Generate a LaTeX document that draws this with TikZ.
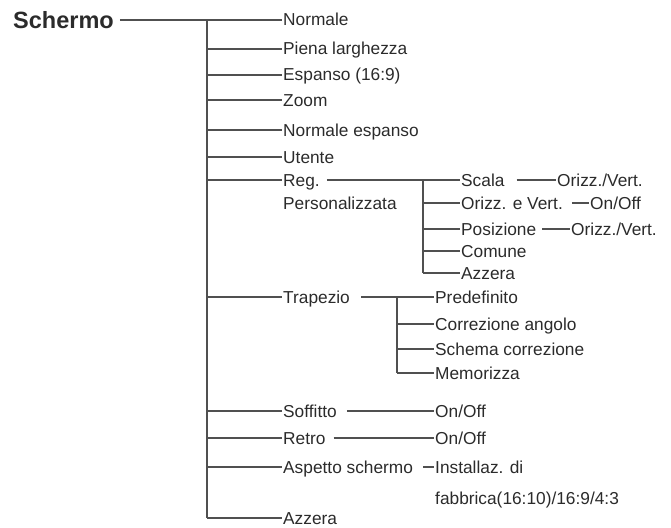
\documentclass[tikz,border=0pt]{standalone}
\usepackage{fontspec}
\setmainfont{Liberation Sans}
\definecolor{ink}{HTML}{2B2B2B}
\definecolor{wire}{HTML}{505050}
\tikzset{
  item/.style={anchor=west,inner sep=1pt,text height=12pt,text depth=0pt,text=ink,font=\fontsize{17.3}{20}\selectfont},
  wire/.style={draw=wire,line width=1.2pt}
}
\begin{document}
\begin{tikzpicture}[x=1pt,y=-1pt]
\useasboundingbox (0,0) rectangle (671,527);
\node[item,font=\fontsize{23.5}{27}\selectfont\bfseries,text height=17pt] (schermo) at (12,20) {Schermo};
\foreach \y/\n/\t in {20/normale/Normale,49/piena/Piena larghezza,75/espanso/{Espanso (16:9)},100/zoom/Zoom,
  130/normesp/Normale espanso,157/utente/Utente,180/reg/Reg.,297/trapezio/Trapezio,411/soffitto/Soffitto,
  438/retro/Retro,467/aspetto/Aspetto schermo,518/azzera/Azzera}{
  \node[item] (\n) at (282,\y) {\t};
  \coordinate (t\n) at (207,\y);
  \draw[wire] (t\n) -- (\n.west);
}
\draw[wire,shorten <=5pt] (schermo.east) -- (tnormale);
\draw[wire] (tnormale) -- (tazzera);
\node[item] (pers) at (282,203) {Personalizzata};
% Reg. Personalizzata
\foreach \y/\n/\t in {180/scala/Scala,203/orizz/Orizz. e Vert.,229/posiz/Posizione,251/comune/Comune,273/azzerareg/Azzera}{
  \node[item] (\n) at (460,\y) {\t};
  \coordinate (r\n) at (423,\y);
  \draw[wire] (r\n) -- (\n.west);
}
\draw[wire,shorten <=6pt] (reg.east) -- (scala.west);
\draw[wire] (rscala) -- (razzerareg);
\node[item] (scalaval) at (556,180) {Orizz./Vert.};
\node[item] (orizzval) at (589,203) {On/Off};
\node[item] (posizval) at (570,229) {Orizz./Vert.};
\draw[wire,shorten <=11pt] (scala.east) -- (scalaval.west);
\draw[wire,shorten <=8pt] (orizz.east) -- (orizzval.west);
\draw[wire,shorten <=5pt] (posiz.east) -- (posizval.west);
% Trapezio
\foreach \y/\n/\t in {297/predef/Predefinito,324/corrang/Correzione angolo,349/schema/Schema correzione,373/memo/Memorizza}{
  \node[item] (\n) at (434,\y) {\t};
  \coordinate (k\n) at (397,\y);
  \draw[wire] (k\n) -- (\n.west);
}
\draw[wire,shorten <=10pt] (trapezio.east) -- (predef.west);
\draw[wire] (kpredef) -- (kmemo);
% Soffitto, Retro, Aspetto schermo
\node[item] (soffval) at (434,411) {On/Off};
\node[item] (retroval) at (434,438) {On/Off};
\node[item] (inst) at (434,467) {Installaz. di};
\node[item] (fabb) at (434,498) {fabbrica(16:10)/16:9/4:3};
\draw[wire,shorten <=9pt] (soffitto.east) -- (soffval.west);
\draw[wire,shorten <=7pt] (retro.east) -- (retroval.west);
\draw[wire,shorten <=9pt] (aspetto.east) -- (inst.west);
\end{tikzpicture}
\end{document}
